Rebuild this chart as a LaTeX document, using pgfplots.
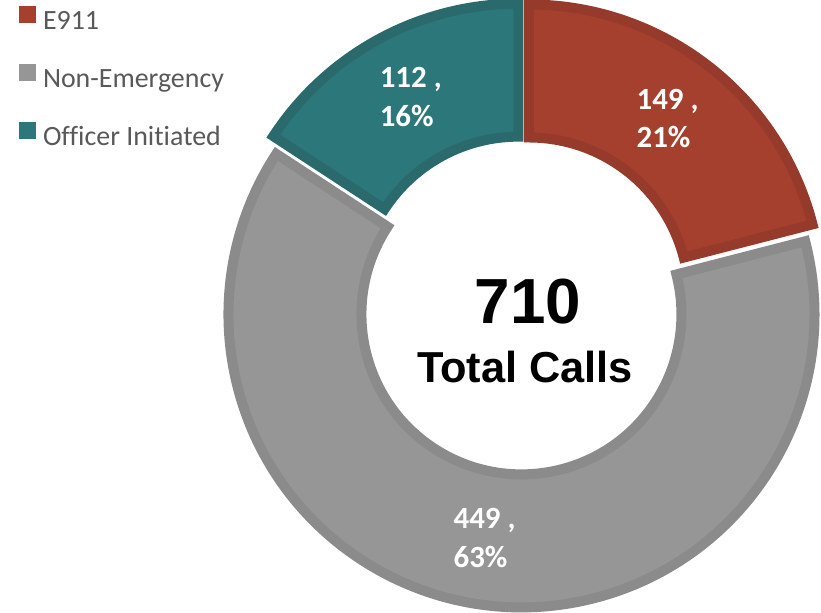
\documentclass[border=0pt]{standalone}
\usepackage{pgfplots}
\pgfplotsset{compat=1.18}
\usepackage{pgfplotstable}
\usetikzlibrary{calc}
\usepackage{fontspec}
\setmainfont[Ligatures=NoCommon]{Carlito}
\newfontfamily\arialfont{Liberation Sans}
\definecolor{e911}{HTML}{A5402E}
\definecolor{e911b}{HTML}{963A2B}
\definecolor{nonem}{HTML}{969696}
\definecolor{nonemb}{HTML}{8B8B8B}
\definecolor{offi}{HTML}{2C777A}
\definecolor{offib}{HTML}{2A6A6D}
\definecolor{legtext}{HTML}{595959}

\pgfplotstableread{
label value
E911 149
Non-Emergency 449
Officer 112
}\calls

\pgfplotstablegetelem{0}{value}\of\calls \let\va\pgfplotsretval
\pgfplotstablegetelem{1}{value}\of\calls \let\vb\pgfplotsretval
\pgfplotstablegetelem{2}{value}\of\calls \let\vc\pgfplotsretval
\pgfmathsetmacro\total{\va+\vb+\vc}
\pgfmathtruncatemacro\totalint{\total}
\pgfmathsetmacro\fA{\va/\total}
\pgfmathsetmacro\fB{\vb/\total}
\pgfmathsetmacro\fC{\vc/\total}
\pgfmathsetmacro\aA{90}
\pgfmathsetmacro\aB{90-360*\fA}
\pgfmathsetmacro\aC{\aB-360*\fB}
\pgfmathsetmacro\aD{\aC-360*\fC}
\pgfmathsetmacro\mA{(\aA+\aB)/2}
\pgfmathsetmacro\mB{(\aB+\aC)/2}
\pgfmathsetmacro\mC{(\aC+\aD)/2}
\pgfmathtruncatemacro\pA{round(100*\fA)}
\pgfmathtruncatemacro\pB{round(100*\fB)}
\pgfmathtruncatemacro\pC{round(100*\fC)}
\newcommand\ring[7]{%
  \filldraw[fill=#4, draw=#5, line width=10bp, line join=miter]
    ($(axis cs:523,308)+(#3:9.5bp)+(#1:293bp)$)
    arc[start angle=#1, end angle=#2, radius=293bp]
    -- ($(axis cs:523,308)+(#3:9.5bp)+(#2:160bp)$)
    arc[start angle=#2, end angle=#1, radius=160bp] -- cycle;
  \node[text=white, font=\bfseries\fontsize{31}{39}\selectfont, align=left, inner sep=0pt]
    at ($(axis cs:523,308)+(#3:9.5bp)+(#3:226.5bp)$) {#6 ,\\#7\%};
}
\begin{document}%
\begin{tikzpicture}
\useasboundingbox (0,0) rectangle (821bp,613bp);
\begin{axis}[hide axis, scale only axis, x=1bp, y=1bp,
  xmin=0, xmax=821, ymin=0, ymax=613, clip=false,
  at={(0,0)}, anchor=south west,
  legend style={at={(axis cs:19,607)}, anchor=north west, draw=none, fill=none,
    font=\fontsize{28}{28}\selectfont, text=legtext, inner sep=0pt, outer sep=0pt,
    row sep=29bp, column sep=7bp,
    nodes={inner sep=0pt, text height=20bp, text depth=6bp}},
  legend cell align=left,
  legend image code/.code={\fill[#1, draw=none] (0bp,-1bp) rectangle (17bp,16bp);}]
\addlegendimage{fill=e911}
\addlegendentry{E911}
\addlegendimage{fill=nonem}
\addlegendentry{Non-Emergency}
\addlegendimage{fill=offi}
\addlegendentry{Officer Initiated}
\ring{\aA}{\aB}{\mA}{e911}{e911b}{\va}{\pA}
\ring{\aB}{\aC}{\mB}{nonem}{nonemb}{\vb}{\pB}
\ring{\aC}{\aD}{\mC}{offi}{offib}{\vc}{\pC}
\node[anchor=base, font=\arialfont\bfseries\fontsize{64}{64}\selectfont] at (axis cs:528,290) {\totalint};
\node[anchor=base, font=\arialfont\bfseries\fontsize{43.5}{43.5}\selectfont] at (axis cs:525,231) {Total Calls};
\end{axis}
\end{tikzpicture}%
\end{document}
